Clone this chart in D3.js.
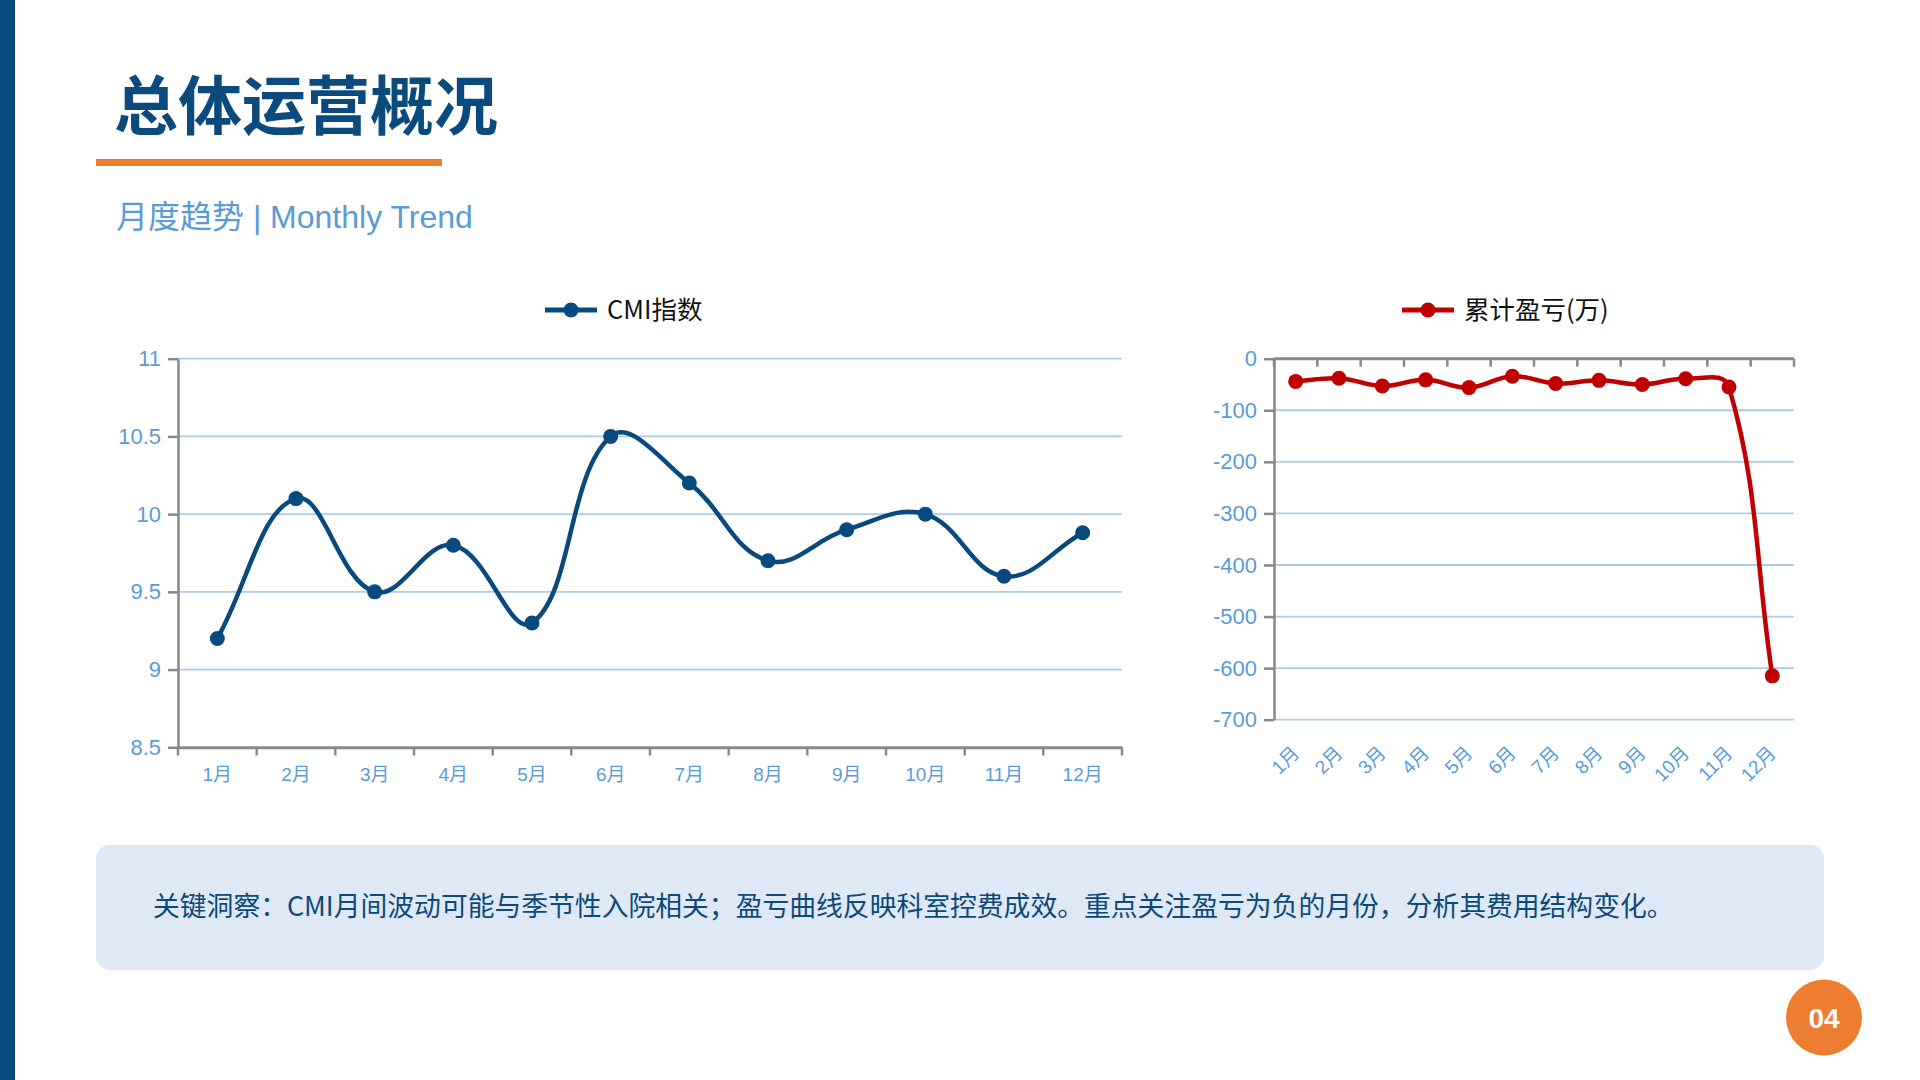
<!DOCTYPE html>
<meta charset="utf-8">
<style>
body { margin: 0; background: #fff; }
svg { display: block; }
.tick-label { fill: #5b9bd5; font-family: "Liberation Sans", "Noto Sans CJK SC", sans-serif; }
.axis .domain, .axis line { stroke: #888; }
</style>
<body>
<script src="https://d3js.org/d3.v7.min.js"></script>
<script>

// data
var months = ["1月","2月","3月","4月","5月","6月","7月","8月","9月","10月","11月","12月"];
var cmiValues = [9.2, 10.1, 9.5, 9.8, 9.3, 10.5, 10.2, 9.7, 9.9, 10.0, 9.6, 9.88];
var profitValues = [-44, -38, -53, -41, -56, -34, -48, -42, -50, -39, -55, -615];
var cmiTicks = [8.5, 9, 9.5, 10, 10.5, 11];
var profitTicks = [-700, -600, -500, -400, -300, -200, -100, 0];

var title = "总体运营概况";
var subtitle = "月度趋势 | Monthly Trend";
var insight = "关键洞察：CMI月间波动可能与季节性入院相关；盈亏曲线反映科室控费成效。重点关注盈亏为负的月份，分析其费用结构变化。";
var pageNo = "04";

var darkBlue = "#0b4a7c",
    cmiColor = "#084a7d",
    profitColor = "#c00000",
    gridColor = "#aecbea",
    orange = "#ed7d31";

var svg = d3.select("body").append("svg")
    .attr("width", 1920)
    .attr("height", 1080);

// page decoration
svg.append("rect").attr("x", 0).attr("y", 0).attr("width", 15).attr("height", 1080).attr("fill", darkBlue);

svg.append("text")
    .attr("x", 114).attr("y", 129)
    .attr("fill", darkBlue)
    .style("font", "700 64px 'Noto Sans CJK SC', sans-serif")
    .text(title);

svg.append("rect").attr("x", 96).attr("y", 159).attr("width", 346).attr("height", 7).attr("fill", orange);

svg.append("text")
    .attr("x", 116).attr("y", 228)
    .attr("fill", "#5b9bd5")
    .style("font", "32px 'Liberation Sans', 'Noto Sans CJK SC', sans-serif")
    .text(subtitle);

// Chart.js style spline (tension 0.4), built from scaled points
function splinePath(pts, t, top, bottom) {
  var cps = pts.map(function(p, i) {
    var prev = pts[i - 1] || p, next = pts[i + 1] || p;
    var d01 = Math.hypot(p[0] - prev[0], p[1] - prev[1]);
    var d12 = Math.hypot(next[0] - p[0], next[1] - p[1]);
    var s01 = d01 / (d01 + d12), s12 = d12 / (d01 + d12);
    if (isNaN(s01)) s01 = 0;
    if (isNaN(s12)) s12 = 0;
    var fa = t * s01, fb = t * s12;
    function clampY(y) { return Math.max(top, Math.min(bottom, y)); }
    return {
      prev: [p[0] - fa * (next[0] - prev[0]), clampY(p[1] - fa * (next[1] - prev[1]))],
      next: [p[0] + fb * (next[0] - prev[0]), clampY(p[1] + fb * (next[1] - prev[1]))]
    };
  });
  var path = d3.path();
  path.moveTo(pts[0][0], pts[0][1]);
  for (var i = 1; i < pts.length; i++) {
    path.bezierCurveTo(cps[i - 1].next[0], cps[i - 1].next[1], cps[i].prev[0], cps[i].prev[1], pts[i][0], pts[i][1]);
  }
  return path.toString();
}

function legend(x, y, color, label) {
  var g = svg.append("g");
  g.append("line").attr("x1", x).attr("x2", x + 52).attr("y1", y).attr("y2", y)
    .attr("stroke", color).attr("stroke-width", 5);
  g.append("circle").attr("cx", x + 26).attr("cy", y).attr("r", 7.5).attr("fill", color);
  g.append("text").attr("x", x + 62).attr("y", y + 9)
    .attr("fill", "#111")
    .style("font", "25.5px 'Noto Sans CJK SC', sans-serif")
    .text(label);
}

var plain = function(d) { return String(d); };

// ---------- left chart: CMI ----------
var x1 = d3.scaleBand().domain(months).range([178, 1122]).padding(0);
var y1 = d3.scaleLinear().domain([8.5, 11]).range([747.3, 358.7]);

svg.append("g").selectAll("line")
    .data(cmiTicks.slice(1))
  .enter().append("line")
    .attr("x1", 178).attr("x2", 1122)
    .attr("y1", function(d) { return y1(d); })
    .attr("y2", function(d) { return y1(d); })
    .attr("stroke", gridColor).attr("stroke-width", 1.8);

var yAxis1 = svg.append("g")
    .attr("class", "axis")
    .attr("transform", "translate(178,0)")
    .call(d3.axisLeft(y1).tickValues(cmiTicks).tickFormat(plain).tickSize(10).tickSizeOuter(0).tickPadding(7));
yAxis1.select(".domain").attr("stroke-width", 2.5);
yAxis1.selectAll("line").attr("stroke-width", 2.5);
yAxis1.selectAll("text").attr("class", "tick-label").style("font-size", "22px");

var xAxis1 = svg.append("g")
    .attr("class", "axis")
    .attr("transform", "translate(0,747.3)")
    .call(d3.axisBottom(x1).tickSize(0).tickSizeOuter(0));
xAxis1.select(".domain").attr("stroke-width", 3);
xAxis1.selectAll("text").attr("class", "tick-label").style("font-size", "19px")
    .attr("y", 27).attr("dy", "0.35em");

svg.append("g").selectAll("line")
    .data(months.map(function(m) { return x1(m); }).concat([x1.range()[1]]))
  .enter().append("line")
    .attr("x1", function(d) { return d; }).attr("x2", function(d) { return d; })
    .attr("y1", 747.3).attr("y2", 755.5)
    .attr("stroke", "#888").attr("stroke-width", 2.5);

var cmiPts = cmiValues.map(function(v, i) { return [x1(months[i]) + x1.bandwidth() / 2, y1(v)]; });

svg.append("path")
    .attr("d", splinePath(cmiPts, 0.4, 358.7, 747.3))
    .attr("fill", "none")
    .attr("stroke", cmiColor)
    .attr("stroke-width", 4.5);

svg.append("g").selectAll("circle")
    .data(cmiPts)
  .enter().append("circle")
    .attr("cx", function(d) { return d[0]; })
    .attr("cy", function(d) { return d[1]; })
    .attr("r", 7.5)
    .attr("fill", cmiColor);

legend(545, 310, cmiColor, "CMI指数");

// ---------- right chart: cumulative profit ----------
var x2 = d3.scaleBand().domain(months).range([1274, 1794]).padding(0);
var y2 = d3.scaleLinear().domain([-700, 0]).range([719.7, 358.7]);

svg.append("g").selectAll("line")
    .data(profitTicks.slice(0, -1))
  .enter().append("line")
    .attr("x1", 1274).attr("x2", 1794)
    .attr("y1", function(d) { return y2(d); })
    .attr("y2", function(d) { return y2(d); })
    .attr("stroke", gridColor).attr("stroke-width", 1.8);

var yAxis2 = svg.append("g")
    .attr("class", "axis")
    .attr("transform", "translate(1274,0)")
    .call(d3.axisLeft(y2).tickValues(profitTicks).tickFormat(plain).tickSize(10).tickSizeOuter(0).tickPadding(7));
yAxis2.select(".domain").attr("stroke-width", 2.5);
yAxis2.selectAll("line").attr("stroke-width", 2.5);
yAxis2.selectAll("text").attr("class", "tick-label").style("font-size", "22px");

// category axis line crosses at 0
svg.append("line")
    .attr("x1", 1274).attr("x2", 1794)
    .attr("y1", y2(0)).attr("y2", y2(0))
    .attr("stroke", "#888").attr("stroke-width", 3);

svg.append("g").selectAll("line")
    .data(months.map(function(m) { return x2(m); }).concat([x2.range()[1]]))
  .enter().append("line")
    .attr("x1", function(d) { return d; }).attr("x2", function(d) { return d; })
    .attr("y1", y2(0)).attr("y2", y2(0) + 8)
    .attr("stroke", "#888").attr("stroke-width", 2.5);

// labels sit low, below the -700 line
var xAxis2 = svg.append("g")
    .attr("transform", "translate(0," + y2(-700) + ")")
    .call(d3.axisBottom(x2).tickSize(0).tickSizeOuter(0));
xAxis2.select(".domain").remove();
xAxis2.selectAll("text").attr("class", "tick-label").style("font-size", "19px")
    .attr("x", 0).attr("y", 30).attr("dy", "0.35em")
    .attr("text-anchor", "end")
    .attr("transform", "rotate(-45 0 30)");

var profitPts = profitValues.map(function(v, i) { return [x2(months[i]) + x2.bandwidth() / 2, y2(v)]; });

svg.append("path")
    .attr("d", splinePath(profitPts, 0.4, 358.7, 719.7))
    .attr("fill", "none")
    .attr("stroke", profitColor)
    .attr("stroke-width", 4.5);

svg.append("g").selectAll("circle")
    .data(profitPts)
  .enter().append("circle")
    .attr("cx", function(d) { return d[0]; })
    .attr("cy", function(d) { return d[1]; })
    .attr("r", 7.5)
    .attr("fill", profitColor);

legend(1402, 310, profitColor, "累计盈亏(万)");

// ---------- insight box ----------
svg.append("rect")
    .attr("x", 96).attr("y", 845).attr("width", 1728).attr("height", 125)
    .attr("rx", 14).attr("fill", "#dfe9f5");

svg.append("text")
    .attr("x", 153).attr("y", 916)
    .attr("fill", darkBlue)
    .style("font", "26.8px 'Noto Sans CJK SC', sans-serif")
    .text(insight);

// page number
svg.append("circle").attr("cx", 1824).attr("cy", 1017.5).attr("r", 38).attr("fill", orange);
svg.append("text")
    .attr("x", 1824).attr("y", 1027.5)
    .attr("text-anchor", "middle")
    .attr("fill", "#fff")
    .style("font", "700 28px 'Liberation Sans', sans-serif")
    .text(pageNo);

</script>
</body>
